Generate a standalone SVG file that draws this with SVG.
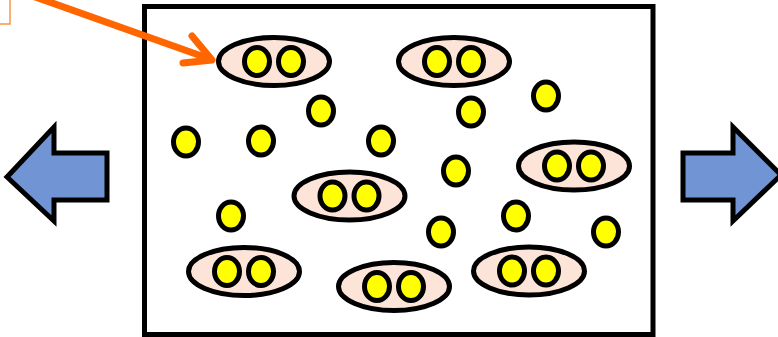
<svg xmlns="http://www.w3.org/2000/svg" width="778" height="337" viewBox="0 0 778 337">
<style>
.pair{fill:#fde4d8;stroke:#000;stroke-width:5}
.dot{fill:#ffff00;stroke:#000;stroke-width:5}
.big{fill:#7094d4;stroke:#000;stroke-width:5;stroke-linejoin:miter}
</style>
<defs>
<g id="pr"><ellipse class="pair" cx="0" cy="0" rx="55.5" ry="24"/><ellipse class="dot" cx="-17" cy="0" rx="12.5" ry="14"/><ellipse class="dot" cx="17" cy="0" rx="12.5" ry="14"/></g>
<ellipse id="d" class="dot" cx="0" cy="0" rx="12.5" ry="14"/>
</defs>
<rect width="778" height="337" fill="#fff"/>
<path d="M0,24 H10 V0" fill="none" stroke="#f79646" stroke-width="1.5"/>
<g id="box"><rect x="144.5" y="6.5" width="508.5" height="328" fill="#fff" stroke="#000" stroke-width="5"/></g>
<g id="leftArrow"><path class="big" d="M7,177 L54,127 V153 H107 V200 H54 V221 Z"/></g>
<g id="rightArrow"><path class="big" d="M683,153 H733 V127 L781,175 L733,221 V200 H683 Z"/></g>
<g id="pair1"><use href="#pr" x="274" y="61.5"/></g>
<g id="pair2"><use href="#pr" x="454" y="61.5"/></g>
<g id="pair3"><use href="#pr" x="349.5" y="196"/></g>
<g id="pair4"><use href="#pr" x="574" y="166"/></g>
<g id="pair5"><use href="#pr" x="244" y="271.5"/></g>
<g id="pair6"><use href="#pr" x="394" y="286.5"/></g>
<g id="pair7"><use href="#pr" x="529" y="271"/></g>
<g id="dots">
<use href="#d" x="186" y="142"/>
<use href="#d" x="261" y="141"/>
<use href="#d" x="321" y="111"/>
<use href="#d" x="381" y="141"/>
<use href="#d" x="471" y="112"/>
<use href="#d" x="546" y="96"/>
<use href="#d" x="456" y="171"/>
<use href="#d" x="231" y="216"/>
<use href="#d" x="441" y="232"/>
<use href="#d" x="516" y="216"/>
<use href="#d" x="606" y="232"/>
</g>
<g id="connectors" fill="none" stroke="#ff6600" stroke-width="7" stroke-linecap="round" stroke-linejoin="round">
<line x1="10" y1="-12" x2="210" y2="59"/>
<polyline points="192,36 212,60 183,63"/>
</g>
</svg>
